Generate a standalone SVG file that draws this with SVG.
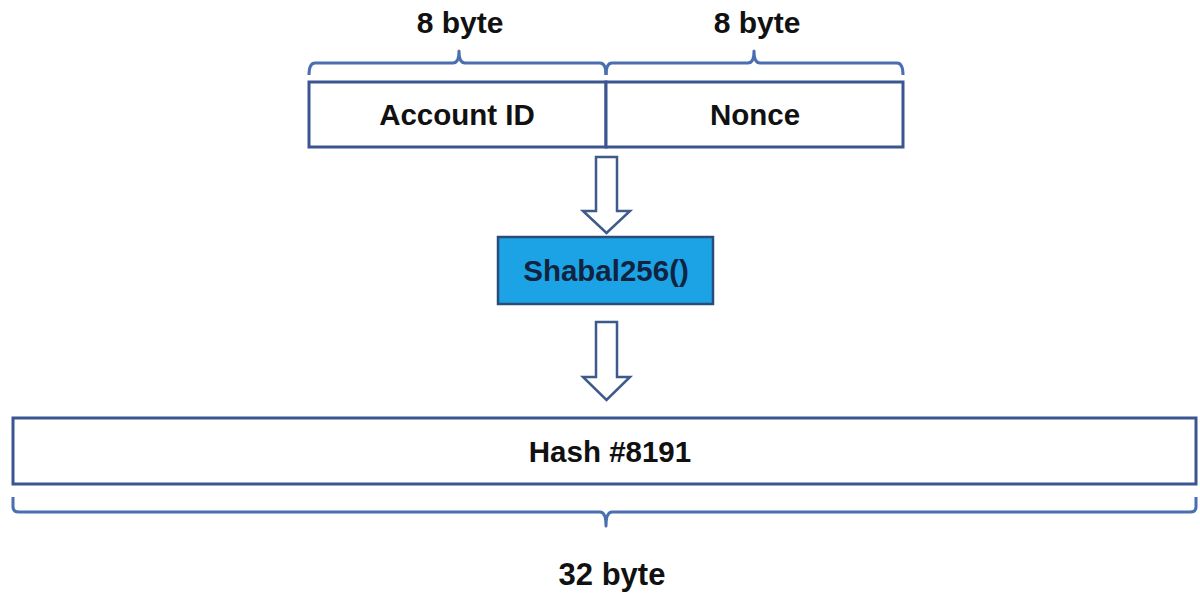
<svg xmlns="http://www.w3.org/2000/svg" width="1200" height="595" viewBox="0 0 1200 595">
  <style>
    .lbl { font-family: "Liberation Sans", Arial, sans-serif; font-weight: bold; font-size: 29.5px; fill: #111; text-anchor: middle; }
    .size { font-size: 30px; }
    .box { fill: #fff; stroke: #3b5591; stroke-width: 3; }
    .brace { fill: none; stroke: #4a6fb0; stroke-width: 3; stroke-linejoin: round; }
    .arrow { fill: #fff; stroke: #3d5a8a; stroke-width: 2.5; stroke-linejoin: miter; }
  </style>
  <rect width="1200" height="595" fill="#fff"/>

  <!-- byte-size labels above the input fields -->
  <text class="lbl size" x="460" y="33">8 byte</text>
  <text class="lbl size" x="757" y="33">8 byte</text>

  <!-- braces over the two 8-byte fields -->
  <g id="brace-top">
    <path class="brace" d="M309,75 Q309,63 315,63 L453,63 Q459,63 459,51 Q459,63 465,63 L600,63 Q606,63 606,75"/>
    <path class="brace" d="M606,75 Q606,63 612,63 L748,63 Q754,63 754,51 Q754,63 760,63 L897,63 Q903,63 903,75"/>
  </g>

  <g id="account-id">
    <rect class="box" x="309" y="82" width="297" height="65"/>
    <text class="lbl" x="457" y="125">Account ID</text>
  </g>
  <g id="nonce">
    <rect class="box" x="606" y="82" width="297" height="65"/>
    <text class="lbl" x="755" y="125">Nonce</text>
  </g>

  <g id="shabal">
    <rect x="498" y="237" width="215" height="67" fill="#1ba3e6" stroke="#2b4c7a" stroke-width="2.5"/>
    <text class="lbl" x="606" y="281" style="fill:#12233f">Shabal256()</text>
  </g>

  <g id="hash">
    <rect class="box" x="13" y="418" width="1183" height="66"/>
    <text class="lbl" x="610" y="462" style="font-weight:600">Hash #8191</text>
  </g>

  <!-- brace under the 32-byte hash -->
  <g id="brace-bottom">
    <path class="brace" d="M13,497 L13,507 Q13,512 19,512 L600,512 Q606,512 606,526 Q606,512 612,512 L1190,512 Q1196,512 1196,507 L1196,497"/>
  </g>
  <text class="lbl" x="612" y="585" style="font-size:31px">32 byte</text>

  <!-- hollow flow arrows between the stages -->
  <g id="connectors">
    <polygon class="arrow" points="596,157 617,157 617,211 630,211 606.5,233 583,211 596,211"/>
    <polygon class="arrow" points="596,322 617,322 617,377 630,377 606.5,400 583,377 596,377"/>
  </g>
</svg>
